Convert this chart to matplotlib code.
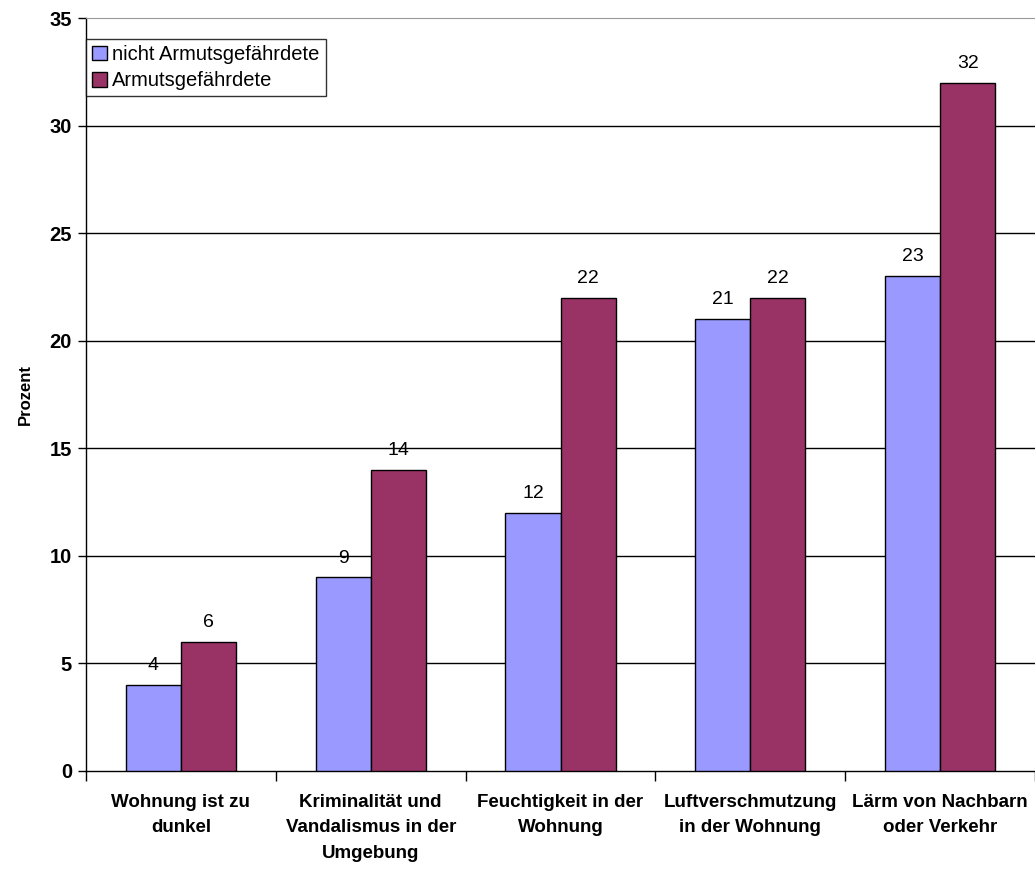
import matplotlib
matplotlib.use("Agg")
import matplotlib.pyplot as plt
import numpy as np

plt.rcParams["font.family"] = ["Liberation Sans Narrow", "Liberation Sans", "DejaVu Sans"]

categories = ["Wohnung ist zu\ndunkel",
              "Kriminalität und\nVandalismus in der\nUmgebung",
              "Feuchtigkeit in der\nWohnung",
              "Luftverschmutzung\nin der Wohnung",
              "Lärm von Nachbarn\noder Verkehr"]
nicht_armut = [4, 9, 12, 21, 23]
armut = [6, 14, 22, 22, 32]
series_names = ["nicht Armutsgefährdete", "Armutsgefährdete"]
yticks = [0, 5, 10, 15, 20, 25, 30, 35]

fig = plt.figure(figsize=(10.35, 8.69), dpi=100)
ax = fig.add_axes([86/1035, 1 - 771/869, 949/1035, (771-18)/869])

x = np.arange(len(categories))
w = 0.29
b1 = ax.bar(x - w/2, nicht_armut, w, color="#9999FF", edgecolor="black", linewidth=1, label=series_names[0], zorder=3)
b2 = ax.bar(x + w/2, armut, w, color="#993366", edgecolor="black", linewidth=1, label=series_names[1], zorder=3)

for bars, vals in ((b1, nicht_armut), (b2, armut)):
    for rect, v in zip(bars, vals):
        ax.text(rect.get_x() + rect.get_width()/2, v + 0.5, str(v), ha="center", va="bottom",
                fontsize=14, family=["Liberation Sans", "DejaVu Sans"])

ax.set_xlim(-0.5, len(categories) - 0.5)
ax.set_ylim(0, 35)
ax.set_yticks(yticks)
ax.set_yticklabels([str(t) for t in yticks], fontsize=14.5, fontweight="bold")
for t in yticks[1:-1]:
    ax.axhline(t, color="black", linewidth=1, zorder=1)

ax.set_xticks(np.arange(len(categories) + 1) - 0.5, minor=False)
ax.set_xticklabels([])
ax.tick_params(axis="x", direction="out", length=7, width=1)
ax.tick_params(axis="y", direction="out", length=6, width=1, pad=4)
for i, lab in enumerate(categories):
    ax.text(i, -1.05, lab, ha="center", va="top", fontsize=13.5, fontweight="bold",
            linespacing=1.68)

ax.spines["right"].set_visible(False)
ax.spines["top"].set_color("#999999")
ax.spines["left"].set_linewidth(1)
ax.spines["bottom"].set_linewidth(1)

ax.set_ylabel("Prozent", fontsize=12, fontweight="bold", labelpad=12)

leg = ax.legend(loc="upper left", bbox_to_anchor=(0, 0.972), fontsize=14.5, frameon=True,
                fancybox=False, edgecolor="black", handlelength=0.75, handleheight=0.75,
                handletextpad=0.25, borderpad=0.3, labelspacing=0.35, borderaxespad=0)
leg.get_frame().set_linewidth(1)
for t in leg.get_texts():
    t.set_family(["Liberation Sans", "DejaVu Sans"])

fig.savefig("out.png", dpi=100)
